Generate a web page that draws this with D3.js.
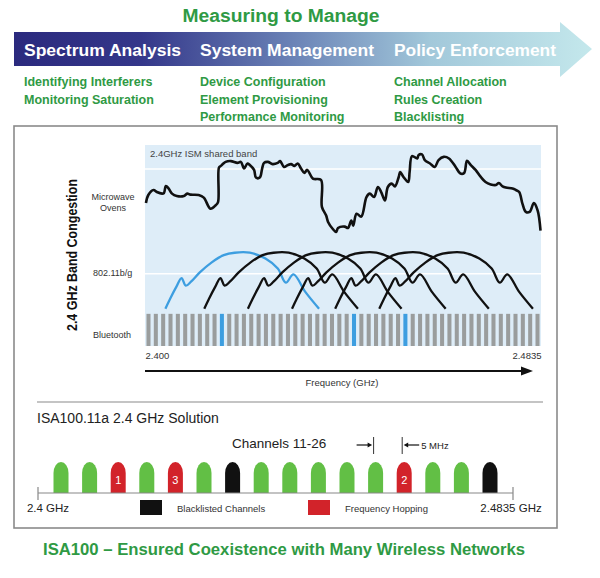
<!DOCTYPE html>
<html><head><meta charset="utf-8">
<script src="https://cdn.jsdelivr.net/npm/d3@7"></script>
<style>
body{margin:0;background:#fff}
svg{display:block}
text{font-family:"Liberation Sans",Arial,Helvetica,sans-serif}
</style>
</head><body>
<svg id="c" width="600" height="578"></svg>
<script>
// ---------------- DATA ----------------
const title = "Measuring to Manage";
const stages = ["Spectrum Analysis", "System Management", "Policy Enforcement"];
const stageItems = [
  ["Identifying Interferers", "Monitoring Saturation"],
  ["Device Configuration", "Element Provisioning", "Performance Monitoring"],
  ["Channel Allocation", "Rules Creation", "Blacklisting"]
];
const bandLabels = ["Microwave Ovens", "802.11b/g", "Bluetooth"];
const freqTicks = [2400, 2483.5];
const freqTickLabels = ["2.400", "2.4835"];
// microwave oven congestion trace: [MHz, level 0-100]
const microwave = [
  [2400.2,71.1],[2400.7,75.1],[2401.8,77.6],[2402.5,76.6],[2403.6,75.8],[2404.0,76.1],[2404.4,79.6],
  [2405.0,78.3],[2405.7,75.8],[2406.7,74.6],[2408.2,74.6],[2408.9,75.8],[2409.6,75.3],[2411.3,75.1],
  [2412.4,73.8],[2413.8,68.3],[2414.9,70.0],[2415.4,71.6],[2415.6,88.8],[2416.0,89.6],[2416.4,90.5],
  [2417.0,91.6],[2418.1,92.0],[2419.5,91.1],[2420.2,91.6],[2420.9,88.3],[2421.6,90.8],[2422.1,90.0],
  [2423.0,87.6],[2423.4,83.8],[2424.2,83.8],[2424.7,88.3],[2425.1,91.1],[2425.9,91.6],[2426.9,90.5],
  [2428.0,91.1],[2428.5,92.0],[2429.3,89.1],[2430.1,90.0],[2430.8,90.5],[2431.5,89.6],[2432.2,90.8],
  [2432.9,88.3],[2433.6,86.1],[2434.2,87.6],[2435.4,83.3],[2437.1,82.6],[2437.3,69.2],[2438.2,64.9],
  [2438.6,61.7],[2439.6,58.2],[2440.3,56.7],[2440.7,58.7],[2442.1,59.4],[2442.8,58.7],[2443.5,62.4],
  [2443.9,59.9],[2444.6,65.8],[2445.6,64.4],[2446.7,74.1],[2447.4,75.8],[2448.3,74.1],[2449.1,79.1],
  [2449.8,76.6],[2450.6,72.4],[2451.2,79.1],[2452.0,80.8],[2452.7,79.4],[2453.5,84.1],[2453.8,86.6],
  [2454.5,84.1],[2455.5,81.6],[2455.8,86.6],[2456.3,94.5],[2457.4,93.3],[2457.7,95.0],[2458.4,95.3],
  [2459.0,92.5],[2460.1,90.8],[2461.1,89.1],[2461.9,92.5],[2463.0,94.1],[2464.1,93.3],[2465.5,89.1],
  [2466.5,85.8],[2467.3,86.1],[2467.9,92.1],[2468.7,90.0],[2469.7,87.6],[2470.8,84.1],[2471.8,81.6],
  [2472.9,80.4],[2474.0,80.1],[2474.6,81.1],[2475.4,79.4],[2476.1,78.8],[2477.5,78.3],[2478.2,77.6],
  [2478.9,76.6],[2479.6,70.7],[2480.3,66.7],[2481.1,66.7],[2482.0,71.1],[2482.8,67.4],[2483.4,57.4]
];
// 802.11b/g channel centres (MHz) and spectral mask [offset MHz, level]
const wifiCenters = [2420.5, 2428.7, 2437.9, 2447.2, 2456.3, 2465.6];
const wifiHighlighted = [0];
const wifiMask = [
  [-16.2,18.5],[-15.2,23.5],[-13.9,29.4],[-12.8,33.8],[-11.9,30.0],[-10.8,32.0],[-9.0,36.5],[-6.5,41.5],
  [-3.9,45.2],[-1.6,46.4],[1.6,46.4],[4.9,43.5],[7.5,38.5],[9.2,31.5],[10.8,35.6],[13.3,26.9],[16.2,18.5]
];
// Bluetooth hop channels
const btCount = 54;
const btActive = [10, 28, 35];
const btLevel = 16;
const bandLines = [88, 36];
// ISA100.11a channels 11-26
const isaChannels = [11,12,13,14,15,16,17,18,19,20,21,22,23,24,25,26];
const isaState = ["ok","ok","hop","ok","hop","ok","black","ok","ok","ok","ok","ok","hop","ok","ok","black"];
const isaHopLabel = ["","","1","","3","","","","","","","","2","","",""];
const spacingMarks = [22, 23];
const legendItems = [["black","Blacklisted Channels"],["hop","Frequency Hopping"]];

// ---------------- DRAW ----------------
const svg = d3.select("#c");
const green = "#2f9a44";
const stateColor = {ok:"#62bf45", hop:"#d2232a", black:"#111111"};

// title
svg.append("text").attr("x",281).attr("y",22).attr("text-anchor","middle")
  .attr("font-size",17.5).attr("font-weight","bold").attr("fill",green)
  .attr("textLength",197).attr("lengthAdjust","spacingAndGlyphs").text(title);

// gradient arrow
const defs = svg.append("defs");
const grad = defs.append("linearGradient").attr("id","ag").attr("gradientUnits","userSpaceOnUse")
  .attr("x1",14).attr("x2",592).attr("y1",0).attr("y2",0);
[[0,"#2b2a7e"],[0.22,"#34378a"],[0.48,"#6a82b6"],[0.72,"#a2c8da"],[1,"#c4e8ec"]]
  .forEach(([o,c]) => grad.append("stop").attr("offset",o).attr("stop-color",c));
svg.append("path").attr("d","M14,32 L560,32 L560,22 L592,49 L560,77 L560,66 L14,66 Z").attr("fill","url(#ag)");

const stageX = [24, 200, 394];
const stageW = [157, 174, 162];
stages.forEach((s,i) => {
  svg.append("text").attr("x",stageX[i]).attr("y",56).attr("font-size",16).attr("font-weight","bold")
    .attr("fill","#fff").attr("textLength",stageW[i]).attr("lengthAdjust","spacingAndGlyphs").text(s);
  stageItems[i].forEach((t,j) => {
    svg.append("text").attr("x",stageX[i]).attr("y",86 + j*17.5).attr("font-size",12.5)
      .attr("font-weight","bold").attr("fill",green).text(t);
  });
});

// outer box
svg.append("rect").attr("x",14).attr("y",126).attr("width",543).attr("height",402)
  .attr("fill","none").attr("stroke","#8a8a8a").attr("stroke-width",1.6);

// spectrum panel
const x = d3.scaleLinear([2400, 2483.5], [145, 541]);
const y = d3.scaleLinear([0, 100], [346, 145]);
svg.append("rect").attr("x",x.range()[0]).attr("y",y.range()[1])
  .attr("width",x.range()[1]-x.range()[0]).attr("height",y.range()[0]-y.range()[1]).attr("fill","#deedf8");
svg.selectAll(".bl").data(bandLines).join("line")
  .attr("x1",x.range()[0]).attr("x2",x.range()[1]).attr("y1",d=>y(d)).attr("y2",d=>y(d))
  .attr("stroke","#fff").attr("stroke-width",1.5);
svg.append("text").attr("x",150).attr("y",157).attr("font-size",9.5).attr("fill","#444").text("2.4GHz ISM shared band");

// bluetooth bars
const bt = d3.scaleBand(d3.range(btCount), x.range()).paddingInner(0.45).paddingOuter(0.2);
svg.selectAll(".bt").data(d3.range(btCount)).join("rect")
  .attr("x",d=>bt(d)).attr("width",bt.bandwidth())
  .attr("y",y(btLevel)).attr("height",y(0)-y(btLevel))
  .attr("fill",d=>btActive.includes(d) ? "#3d9ee0" : "#9a9d9d");

// wifi curves
const line = d3.line().x(d=>x(d[0])).y(d=>y(d[1])).curve(d3.curveCatmullRom.alpha(0.5));
svg.selectAll(".wifi").data(wifiCenters).join("path")
  .attr("d", c => line(wifiMask.map(([o,l]) => [c+o, l])))
  .attr("fill","none")
  .attr("stroke",(c,i)=>wifiHighlighted.includes(i) ? "#3d9ee0" : "#111")
  .attr("stroke-width",2.3).attr("stroke-linejoin","round");

// microwave trace
svg.append("path").attr("d", line(microwave)).attr("fill","none")
  .attr("stroke","#111").attr("stroke-width",2.6).attr("stroke-linejoin","round");

// left labels
const lab = svg.append("g").attr("font-size",9).attr("fill","#333");
lab.append("text").attr("x",113).attr("y",200).attr("text-anchor","middle").text(bandLabels[0].split(" ")[0]);
lab.append("text").attr("x",113).attr("y",211).attr("text-anchor","middle").text(bandLabels[0].split(" ")[1]);
lab.append("text").attr("x",93).attr("y",276).text(bandLabels[1]);
lab.append("text").attr("x",93).attr("y",338).text(bandLabels[2]);
svg.append("text").attr("transform","translate(77,255) rotate(-90)").attr("text-anchor","middle")
  .attr("font-size",14).attr("font-weight","bold").attr("fill","#111")
  .attr("textLength",152).attr("lengthAdjust","spacingAndGlyphs").text("2.4 GHz Band Congestion");

// frequency axis
const ax = svg.append("g").attr("transform",`translate(0,${y(0)})`)
  .call(d3.axisBottom(x).tickValues(freqTicks).tickSize(0).tickFormat((d,i)=>freqTickLabels[i]));
ax.select(".domain").remove();
ax.selectAll("text").attr("font-size",9.5).attr("fill","#333").attr("dy","1.05em")
  .attr("font-family","Liberation Sans, Arial, sans-serif")
  .attr("text-anchor",(d,i)=> i===0 ? "start" : "end");
svg.append("line").attr("x1",x.range()[0]).attr("x2",x.range()[1]-18).attr("y1",371).attr("y2",371)
  .attr("stroke","#111").attr("stroke-width",2);
svg.append("path").attr("d",`M${x.range()[1]-8},371 L${x.range()[1]-20},366.5 L${x.range()[1]-20},375.5 Z`).attr("fill","#111");
svg.append("text").attr("x",342).attr("y",386).attr("text-anchor","middle").attr("font-size",9.5).attr("fill","#333").text("Frequency (GHz)");

// separator
svg.append("line").attr("x1",37).attr("x2",543).attr("y1",402).attr("y2",402).attr("stroke","#8a8a8a").attr("stroke-width",1.2);

// ISA section
svg.append("text").attr("x",37).attr("y",423).attr("font-size",14).attr("fill","#222").text("ISA100.11a 2.4 GHz Solution");
svg.append("text").attr("x",232).attr("y",448).attr("font-size",13.5).attr("fill","#222").text("Channels 11-26");

const cx = d3.scaleLinear([11, 26], [61, 490]);
const yTop = 462, yBot = 493, hw = 7.5, ry = 11;
svg.selectAll(".ch").data(isaChannels).join("path")
  .attr("d", d => { const c = cx(d); return `M${c-hw},${yBot} L${c-hw},${yTop+ry} A${hw},${ry} 0 0 1 ${c+hw},${yTop+ry} L${c+hw},${yBot} Z`; })
  .attr("fill",(d,i)=>stateColor[isaState[i]]);
svg.selectAll(".chl").data(isaChannels).join("text")
  .attr("x",d=>cx(d)).attr("y",484).attr("text-anchor","middle").attr("font-size",11).attr("fill","#fff")
  .text((d,i)=>isaHopLabel[i]);

// ISA axis
const fx = d3.scaleLinear([2400, 2483.5], [38, 513]);
svg.append("line").attr("x1",fx(2400)).attr("x2",fx(2483.5)).attr("y1",yBot).attr("y2",yBot).attr("stroke","#888").attr("stroke-width",1.2);
svg.selectAll(".et").data([2400, 2483.5]).join("line")
  .attr("x1",d=>fx(d)).attr("x2",d=>fx(d)).attr("y1",yBot-6).attr("y2",yBot+7).attr("stroke","#888").attr("stroke-width",1.2);
svg.append("text").attr("x",48).attr("y",512).attr("text-anchor","middle").attr("font-size",11.5).attr("fill","#222").text("2.4 GHz");
svg.append("text").attr("x",511).attr("y",512).attr("text-anchor","middle").attr("font-size",11.5).attr("fill","#222").text("2.4835 GHz");

// 5 MHz spacing marks
const m1 = cx(spacingMarks[0]) - 2, m2 = cx(spacingMarks[1]) - 2, my = 445;
[m1, m2].forEach(m => svg.append("line").attr("x1",m).attr("x2",m).attr("y1",my-8).attr("y2",my+9).attr("stroke","#333").attr("stroke-width",1));
svg.append("line").attr("x1",m1-17).attr("x2",m1-5).attr("y1",my).attr("y2",my).attr("stroke","#111").attr("stroke-width",1.2);
svg.append("path").attr("d",`M${m1-1.5},${my} L${m1-6},${my-2.5} L${m1-6},${my+2.5} Z`).attr("fill","#111");
svg.append("line").attr("x1",m2+5).attr("x2",m2+17).attr("y1",my).attr("y2",my).attr("stroke","#111").attr("stroke-width",1.2);
svg.append("path").attr("d",`M${m2+1.5},${my} L${m2+6},${my-2.5} L${m2+6},${my+2.5} Z`).attr("fill","#111");
svg.append("text").attr("x",m2+19).attr("y",my+3.5).attr("font-size",9.5).attr("fill","#222").text("5 MHz");

// legend
const legX = [140, 308];
legendItems.forEach(([k,t],i) => {
  svg.append("rect").attr("x",legX[i]).attr("y",500).attr("width",22).attr("height",15).attr("fill",stateColor[k]);
  svg.append("text").attr("x",legX[i]+37).attr("y",512).attr("font-size",9.5).attr("fill","#333").text(t);
});

// bottom title
svg.append("text").attr("x",284).attr("y",555).attr("text-anchor","middle").attr("font-size",16.5)
  .attr("font-weight","bold").attr("fill",green).attr("textLength",482).attr("lengthAdjust","spacingAndGlyphs")
  .text("ISA100 – Ensured Coexistence with Many Wireless Networks");
</script>
</body></html>
